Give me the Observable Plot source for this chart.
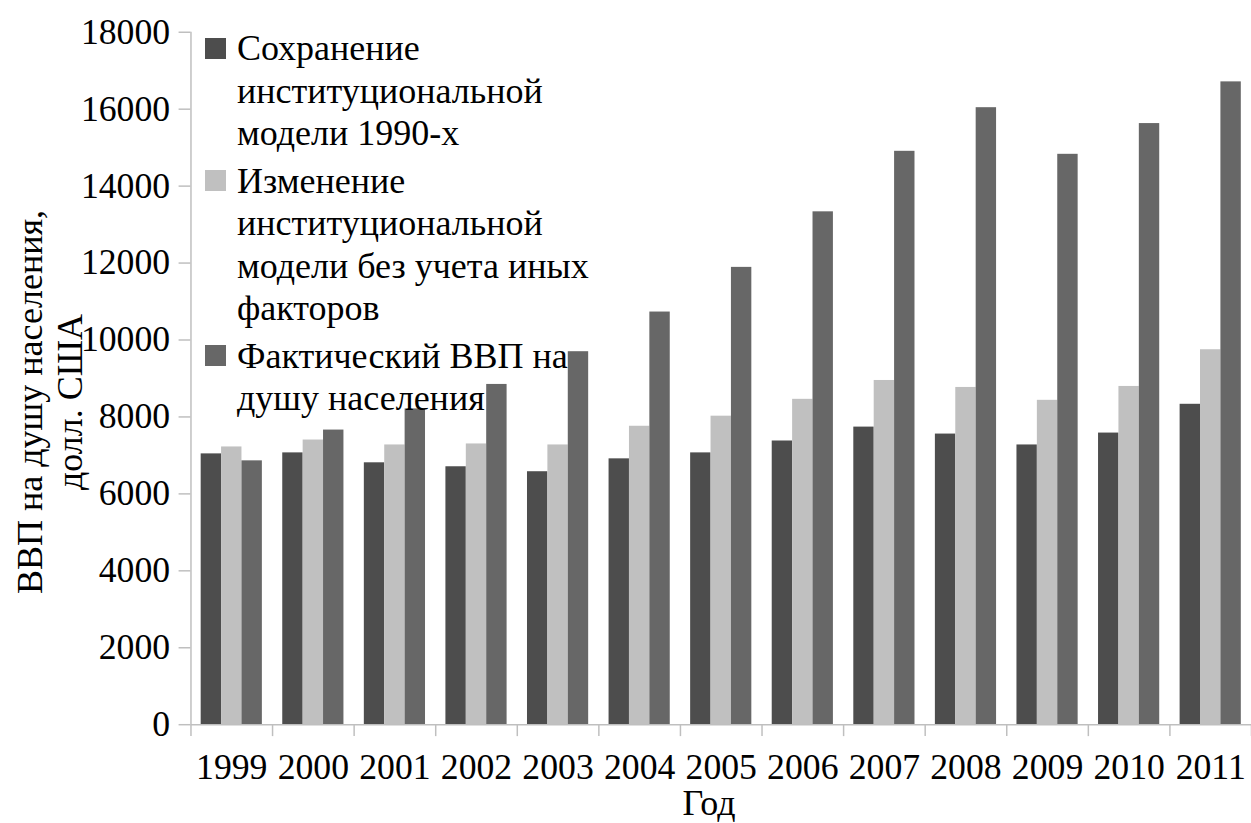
<!DOCTYPE html>
<html>
<head>
<meta charset="utf-8">
<script src="https://cdn.jsdelivr.net/npm/d3@7"></script>
<script src="https://cdn.jsdelivr.net/npm/@observablehq/plot@0.6"></script>
<style>
  html, body { margin: 0; padding: 0; background: #fff; overflow: hidden; }
  #wrap { position: relative; width: 1251px; height: 823px; overflow: hidden;
          font-family: 'Liberation Serif', 'Times New Roman', Times, Tinos, 'DejaVu Serif', serif; color: #000; }
  #chart { position: absolute; left: 0; top: 0; }
  #chart svg, #chart svg text { font-family: 'Liberation Serif', 'Times New Roman', Times, Tinos, 'DejaVu Serif', serif !important; }
  .legend { position: absolute; left: 205px; top: 27.2px; font-size: 36px; line-height: 42.5px; }
  .item { position: relative; padding-left: 32px; margin-bottom: 5px; white-space: nowrap; }
  .sw { position: absolute; left: 0; top: 10.4px; width: 21px; height: 21px; }
  .ytitle { position: absolute; left: -200px; top: 362px; width: 500px; height: 80px;
            font-size: 36px; line-height: 40px; text-align: center; transform: rotate(-90deg);
            transform-origin: 50% 50%; white-space: nowrap; }
  .xtitle { position: absolute; left: 609px; width: 200px; top: 788px; height: 30px; text-align: center;
            font-size: 36px; line-height: 30px; }
</style>
</head>
<body>
<div id="wrap">
  <div id="chart"></div>
  <div class="ytitle">ВВП на душу населения,<br>долл. США</div>
  <div class="xtitle">Год</div>
  <div class="legend" id="legend"></div>
</div>
<script>
const years = [1999, 2000, 2001, 2002, 2003, 2004, 2005, 2006, 2007, 2008, 2009, 2010, 2011];
const seriesNames = [
  "Сохранение институциональной модели 1990-х",
  "Изменение институциональной модели без учета иных факторов",
  "Фактический ВВП на душу населения"
];
const legendLines = [
  ["Сохранение", "институциональной", "модели 1990-х"],
  ["Изменение", "институциональной", "модели без учета иных", "факторов"],
  ["Фактический ВВП на", "душу населения"]
];
const seriesColors = ["#4d4d4d", "#c0c0c0", "#676767"];
const preserve1990s = [7040, 7066, 6808, 6705, 6576, 6911, 7066, 7375, 7736, 7555, 7272, 7581, 8329];
const modelChange   = [7220, 7400, 7272, 7298, 7272, 7758, 8020, 8458, 8948, 8767, 8432, 8793, 9747];
const actualGdp     = [6859, 7659, 8209, 8845, 9696, 10727, 11888, 13332, 14905, 16039, 14827, 15626, 16710];
const yTicks = [0, 2000, 4000, 6000, 8000, 10000, 12000, 14000, 16000, 18000];

const seriesValues = [preserve1990s, modelChange, actualGdp];
const groupFrac = 0.75;           // share of each year band used by the bar group
const barFrac = groupFrac / seriesNames.length;
const data = [];
years.forEach((yr, i) => {
  seriesNames.forEach((s, k) => {
    const x1 = yr - groupFrac / 2 + k * barFrac;
    data.push({year: yr, series: s, value: seriesValues[k][i], x1, x2: x1 + barFrac});
  });
});
const boundaries = years.map(y => y - 0.5).concat([years[years.length - 1] + 0.5]);

const axisGray = "#bfbfbf";
const serif = "'Liberation Serif', 'Times New Roman', Times, Tinos, 'DejaVu Serif', serif";
const chart = Plot.plot({
  width: 1261,
  height: 823,
  marginLeft: 192,
  marginRight: 0,
  marginTop: 32,
  marginBottom: 93,
  style: {fontFamily: serif, fontSize: "36px", background: "transparent", color: "#000"},
  x: {type: "linear", domain: [years[0] - 0.5, years[years.length - 1] + 0.5]},
  y: {domain: [0, 18000]},
  color: {domain: seriesNames, range: seriesColors},
  marks: [
    Plot.rectY(data, {x1: "x1", x2: "x2", y: "value", fill: "series"}),
    Plot.ruleX([boundaries[0]], {stroke: axisGray, strokeWidth: 1.5}),
    Plot.ruleY([0], {stroke: axisGray, strokeWidth: 1.5}),
    Plot.axisY({ticks: yTicks, tickSize: 12, tickPadding: 9, tickFormat: d => String(d),
                stroke: axisGray, fill: "#000", strokeWidth: 1.5, label: null}),
    Plot.axisX({ticks: boundaries, tickSize: 12, tickFormat: () => "", stroke: axisGray, strokeWidth: 1.5, label: null}),
    Plot.axisX({ticks: years, tickSize: 0, tickPadding: 29, tickFormat: d => String(d), fill: "#000", label: null})
  ]
});
document.getElementById("chart").appendChild(chart);

const legend = document.getElementById("legend");
seriesNames.forEach((s, k) => {
  const item = document.createElement("div");
  item.className = "item";
  const sw = document.createElement("span");
  sw.className = "sw";
  sw.style.background = seriesColors[k];
  item.appendChild(sw);
  const txt = document.createElement("span");
  txt.innerHTML = legendLines[k].join("<br>");
  item.appendChild(txt);
  legend.appendChild(item);
});
</script>
</body>
</html>
